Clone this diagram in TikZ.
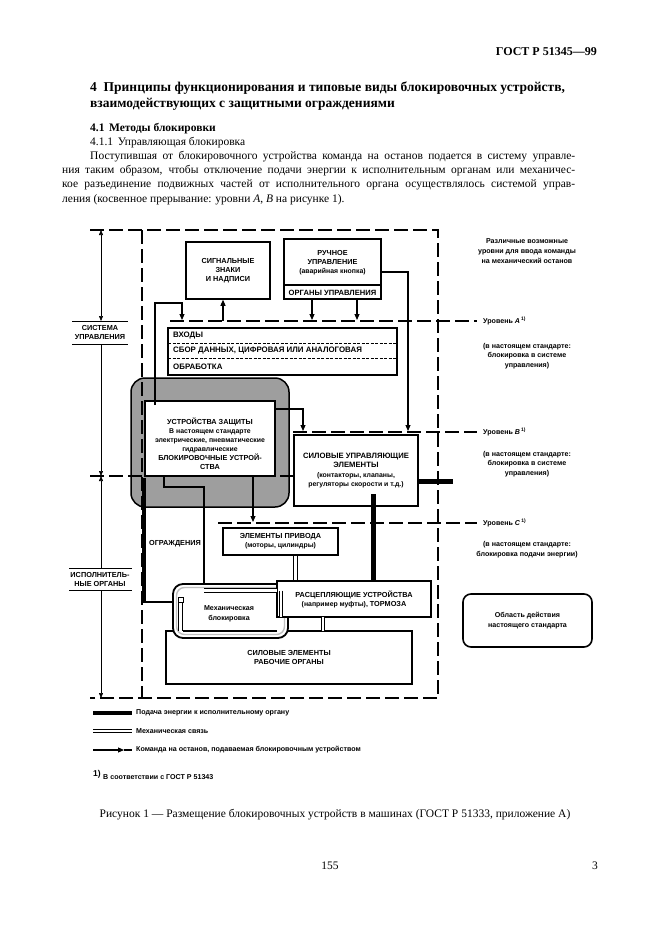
\documentclass[tikz,border=0pt]{standalone}
\usepackage{fontspec}
\setmainfont{Liberation Serif}
\setsansfont{Liberation Sans}
\usetikzlibrary{arrows.meta}
\newcommand\dgf{\sffamily\bfseries\fontsize{7.3}{9}\selectfont}
\newcommand\dgs{\sffamily\bfseries\fontsize{7.1}{9.8}\selectfont}
\newcommand\dgl{\fontsize{6.9}{9}\selectfont}
\begin{document}
\begin{tikzpicture}[x=1pt,y=-1pt,
  box/.style={draw,line width=1.5pt,fill=white,inner sep=0pt,align=center,font=\dgf},
  txt/.style={inner sep=0pt,align=center,font=\dgf},
  stxt/.style={inner sep=0pt,align=center,font=\dgs},
  frameline/.style={line width=2.6pt,dash pattern=on 14pt off 5pt},
  levelline/.style={line width=1.7pt,dash pattern=on 14pt off 5pt},
  cmd/.style={line width=1.1pt,-{Triangle[length=6pt,width=5pt]}},
  thinl/.style={line width=1.1pt},
  energy/.style={line width=5pt},
  mechl/.style={double,double distance=2.4pt,line width=0.9pt},
  dim/.style={line width=0.6pt},
  para/.style={inner sep=0pt,anchor=base west,font=\fontsize{11.5}{14}\selectfont},
]
\fill[white] (0,0) rectangle (661,936);
\useasboundingbox (0,0) rectangle (661,936);

% ---------- page text ----------
\node[inner sep=0pt,anchor=base east,font=\bfseries\fontsize{12}{14}\selectfont] (hdr) at (597,56) {ГОСТ Р 51345—99};
\node[inner sep=0pt,anchor=base west,font=\bfseries\fontsize{13.5}{16}\selectfont] (t1) at (90,92) {4\hspace{0.5em}Принципы функционирования и типовые виды блокировочных устройств,};
\node[inner sep=0pt,anchor=base west,font=\bfseries\fontsize{13.5}{16}\selectfont] (t2) at (90,108) {взаимодействующих с защитными ограждениями};
\node[inner sep=0pt,anchor=base west,font=\bfseries\fontsize{11.5}{14}\selectfont] (s1) at (90,132) {4.1\hspace{0.4em}Методы блокировки};
\node[para] (s2) at (90,146) {4.1.1\hspace{0.4em}Управляющая блокировка};
\node[para] (p1) at (90,160) {\makebox[485pt][s]{Поступившая от блокировочного устройства команда на останов подается в систему управле-}};
\node[para] (p2) at (62,174) {\makebox[513pt][s]{ния таким образом, чтобы отключение подачи энергии к исполнительным органам или механичес-}};
\node[para] (p3) at (62,188) {\makebox[513pt][s]{кое разъединение подвижных частей от исполнительного органа осуществлялось системой управ-}};
\node[para] (p4) at (62,202) {ления (косвенное прерывание: уровни \textit{А}, \textit{В} на рисунке 1).};

\node[inner sep=0pt,anchor=base,font=\fontsize{11.5}{14}\selectfont] (cap) at (335,817) {Рисунок 1 — Размещение блокировочных устройств в машинах (ГОСТ Р 51333, приложение А)};
\node[inner sep=0pt,anchor=base,font=\fontsize{11.5}{14}\selectfont] (pg) at (330,869) {155};
\node[inner sep=0pt,anchor=base,font=\fontsize{11.5}{14}\selectfont] (pg2) at (595,869) {3};

% ---------- gray protective-device area ----------
\node[draw,line width=1.5pt,fill=black!38,rounded corners=14pt,minimum width=158pt,minimum height=129pt,inner sep=0pt] (grayb) at (210,442.5) {};

% ---------- frame ----------
\coordinate (topL) at (90,230);
\coordinate (topR) at (438,230);
\coordinate (botL) at (90,698);
\coordinate (botR) at (438,698);
\coordinate (frL1) at (142,230);
\coordinate (frL2) at (142,698);
\draw[frameline] (topL) -- (topR) -- (botR) -- (botL);
\draw[frameline] (frL1) -- (frL2);

% ---------- level lines ----------
\coordinate (lA1) at (170,321); \coordinate (lA2) at (477,321);
\coordinate (lB1) at (293,432); \coordinate (lB2) at (477,432);
\coordinate (lC1) at (218,523); \coordinate (lC2) at (477,523);
\coordinate (sp1) at (90,476);  \coordinate (sp2) at (294,476);
\draw[levelline] (lA1) -- (lA2);
\draw[levelline] (lB1) -- (lB2);
\draw[levelline] (lC1) -- (lC2);
\draw[levelline] (sp1) -- (sp2);

% ---------- boxes ----------
\node[box,minimum width=84pt,minimum height=57pt] (sig) at (228,270.5) {СИГНАЛЬНЫЕ\\ЗНАКИ\\И НАДПИСИ};
\node[box,minimum width=97pt,minimum height=60pt] (man) at (332.5,269) {};
\coordinate (manS1) at (284,285); \coordinate (manS2) at (381,285);
\draw[line width=1.2pt] (manS1) -- (manS2);
\node[txt] (manT) at (332.5,263) {РУЧНОЕ\\УПРАВЛЕНИЕ\\{\dgl(аварийная кнопка)}};
\node[txt,font=\sffamily\bfseries\fontsize{7.6}{9}\selectfont] (manB) at (332.5,292.5) {ОРГАНЫ УПРАВЛЕНИЯ};

\node[box,minimum width=229pt,minimum height=47pt] (inp) at (282.5,351.5) {};
\coordinate (iS1) at (168,343.5); \coordinate (iS2) at (397,343.5);
\coordinate (iS3) at (168,358.5); \coordinate (iS4) at (397,358.5);
\draw[line width=0.5pt,dash pattern=on 3pt off 1.5pt] (iS1) -- (iS2);
\draw[line width=0.5pt,dash pattern=on 3pt off 1.5pt] (iS3) -- (iS4);
\node[txt,anchor=west,font=\sffamily\bfseries\fontsize{7.9}{9}\selectfont] (i1) at (173,336) {ВХОДЫ};
\node[txt,anchor=west,font=\sffamily\bfseries\fontsize{7.9}{9}\selectfont] (i2) at (173,351) {СБОР ДАННЫХ, ЦИФРОВАЯ ИЛИ АНАЛОГОВАЯ};
\node[txt,anchor=west,font=\sffamily\bfseries\fontsize{7.9}{9}\selectfont] (i3) at (173,366.5) {ОБРАБОТКА};

\node[box,minimum width=124pt,minimum height=71pt,font=\sffamily\bfseries\fontsize{7.7}{9.3}\selectfont] (pce) at (356,470.5) {СИЛОВЫЕ УПРАВЛЯЮЩИЕ\\ЭЛЕМЕНТЫ\\{\dgl(контакторы, клапаны,}\\{\dgl регуляторы скорости и т.д.)}};

\node[box,minimum width=115pt,minimum height=27pt] (drv) at (280.5,541.5) {ЭЛЕМЕНТЫ ПРИВОДА\\{\dgl(моторы, цилиндры)}};

% connectors inside gray area
\coordinate (pg1) at (164,476); \coordinate (pg2) at (164,487);
\coordinate (pg3) at (204,487); \coordinate (pg4) at (204,602);
\coordinate (pg5) at (146,602);
\draw[thinl] (pg1) -- (pg2) -- (pg3) -- (pg4) -- (pg5);

\node[box,minimum width=130pt,minimum height=75pt] (prot) at (210,438.5) {};
\node[txt] (protT) at (210,444) {УСТРОЙСТВА ЗАЩИТЫ\\{\dgl В настоящем стандарте}\\{\dgl электрические, пневматические}\\{\dgl гидравлические}\\БЛОКИРОВОЧНЫЕ УСТРОЙ-\\СТВА};

\node[box,minimum width=246pt,minimum height=53pt] (pwr) at (289,657.5) {СИЛОВЫЕ ЭЛЕМЕНТЫ\\РАБОЧИЕ ОРГАНЫ};

\node[draw,line width=1.8pt,fill=white,rounded corners=10pt,minimum width=115pt,minimum height=54pt,inner sep=0pt] (mech) at (230.5,611) {};
\coordinate (mi1) at (176.5,587.5); \coordinate (mi2) at (284.5,634.5);
\draw[black!25,line width=1.4pt,rounded corners=8pt] (mi1) rectangle (mi2);
\node[stxt] (mechT) at (229,614) {Механическая\\блокировка};

\node[box,minimum width=154pt,minimum height=36pt] (dcl) at (354,599) {РАСЦЕПЛЯЮЩИЕ УСТРОЙСТВА\\{\dgl(например муфты),} ТОРМОЗА};

\node[draw,line width=1.6pt,fill=white,rounded corners=8pt,minimum width=129pt,minimum height=53pt,inner sep=0pt,align=center,font=\dgs] (scope) at (527.5,620.5) {Область действия\\настоящего стандарта};

% ---------- guard ----------
\coordinate (gd1) at (144,478); \coordinate (gd2) at (144,603);
\draw[line width=4pt] (gd1) -- (gd2);
\node[txt,fill=white,inner sep=1pt] (grd) at (175,544) {ОГРАЖДЕНИЯ};

% ---------- mechanical links ----------
\coordinate (m1) at (204,590.5); \coordinate (m2) at (277,590.5);
\coordinate (m3) at (281,590.5); \coordinate (m4) at (281,617);
\coordinate (m5) at (180.5,601); \coordinate (m6) at (180.5,631);
\draw[mechl] (m1) -- (m2);
\draw[mechl] (m3) -- (m4);
\draw[mechl] (m5) -- (m6);
\node[draw,line width=0.9pt,fill=white,minimum size=5pt,inner sep=0pt] (msq) at (180.5,600) {};
\draw[line width=1.4pt] (183,631) -- (277,631);
\coordinate (dd1) at (295.5,555); \coordinate (dd2) at (295.5,581);
\draw[mechl] (drv.south -| dd1) -- (dcl.north -| dd2);
\coordinate (dp1) at (323,617); \coordinate (dp2) at (323,631);
\draw[mechl] (dp1) -- (dp2);

% ---------- energy ----------
\coordinate (e1) at (373,494); \coordinate (e2) at (373,581);
\draw[energy] (e1) -- (e2);
\coordinate (e3) at (418,481); \coordinate (e4) at (453,481);
\draw[energy] (e3) -- (e4);

% ---------- command arrows ----------
\coordinate (c1) at (155,405); \coordinate (c2) at (155,303);
\coordinate (c3) at (182,303); \coordinate (c4) at (182,320);
\draw[cmd] (c1) -- (c2) -- (c3) -- (c4);
\coordinate (sg1) at (223,321);
\draw[cmd] (sg1) -- (sig.south -| sg1);
\coordinate (ma1) at (312,320); \coordinate (ma2) at (357,320);
\draw[cmd] (man.south -| ma1) -- (ma1);
\draw[cmd] (man.south -| ma2) -- (ma2);
\coordinate (mr1) at (381,272); \coordinate (mr2) at (408,272); \coordinate (mr3) at (408,431);
\draw[cmd] (mr1) -- (mr2) -- (mr3);
\coordinate (pr1) at (275,409); \coordinate (pr2) at (303,409); \coordinate (pr3) at (303,431);
\draw[cmd] (pr1) -- (pr2) -- (pr3);
\coordinate (pb1) at (253,476); \coordinate (pb2) at (253,522);
\draw[cmd] (pb1) -- (pb2);

% ---------- left dimension ----------
\coordinate (d0) at (101,230); \coordinate (d1) at (101,321);
\coordinate (d2) at (101,344); \coordinate (d3) at (101,476);
\coordinate (d4) at (101,568); \coordinate (d5) at (101,590);
\coordinate (d6) at (101,698);
\draw[dim,{Triangle[length=5pt,width=4pt]}-{Triangle[length=5pt,width=4pt]}] (d0) -- (d1);
\draw[dim,-{Triangle[length=5pt,width=4pt]}] (d2) -- (d3);
\draw[dim,{Triangle[length=5pt,width=4pt]}-] (d3) -- (d4);
\draw[dim,-{Triangle[length=5pt,width=4pt]}] (d5) -- (d6);
\coordinate (su1) at (72,321); \coordinate (su2) at (128,321);
\coordinate (su3) at (72,344); \coordinate (su4) at (128,344);
\draw[line width=0.8pt] (su1) -- (su2);
\draw[line width=0.8pt] (su3) -- (su4);
\node[txt,fill=white,inner sep=0.5pt] (sys) at (100,332.5) {СИСТЕМА\\УПРАВЛЕНИЯ};
\coordinate (io1) at (69,568); \coordinate (io2) at (132,568);
\coordinate (io3) at (69,590); \coordinate (io4) at (132,590);
\draw[line width=0.8pt] (io1) -- (io2);
\draw[line width=0.8pt] (io3) -- (io4);
\node[txt,fill=white,inner sep=0.5pt] (iso) at (100,579.5) {ИСПОЛНИТЕЛЬ-\\НЫЕ ОРГАНЫ};

% ---------- right side texts ----------
\node[stxt] (rt1) at (527,251) {Различные возможные\\уровни для ввода команды\\на механический останов};
\node[stxt,anchor=west] (lAt) at (483,321) {Уровень \textit{A}\,\textsuperscript{1)}};
\node[stxt] (rt2) at (527,356) {(в настоящем стандарте:\\блокировка в системе\\управления)};
\node[stxt,anchor=west] (lBt) at (483,432) {Уровень \textit{B}\,\textsuperscript{1)}};
\node[stxt] (rt3) at (527,464) {(в настоящем стандарте:\\блокировка в системе\\управления)};
\node[stxt,anchor=west] (lCt) at (483,523) {Уровень \textit{C}\,\textsuperscript{1)}};
\node[stxt] (rt4) at (527,550) {(в настоящем стандарте:\\блокировка подачи энергии)};

% ---------- legend ----------
\coordinate (lg1) at (93,713); \coordinate (lg2) at (132,713);
\draw[energy,line width=4.5pt] (lg1) -- (lg2);
\node[stxt,anchor=west] (lgt1) at (136,713) {Подача энергии к исполнительному органу};
\coordinate (lg3) at (93,731); \coordinate (lg4) at (132,731);
\draw[mechl] (lg3) -- (lg4);
\node[stxt,anchor=west] (lgt2) at (136,731) {Механическая связь};
\coordinate (lg5) at (93,750); \coordinate (lg6) at (124,750); \coordinate (lg7) at (132,750);
\draw[cmd] (lg5) -- (lg6);
\draw[thinl] (lg6) -- (lg7);
\node[stxt,anchor=west] (lgt3) at (136,750) {Команда на останов, подаваемая блокировочным устройством};
\node[stxt,anchor=west] (fn) at (93,775) {\textsuperscript{\fontsize{8.5}{9}\selectfont 1)} В соответствии с ГОСТ Р 51343};
\end{tikzpicture}
\end{document}
